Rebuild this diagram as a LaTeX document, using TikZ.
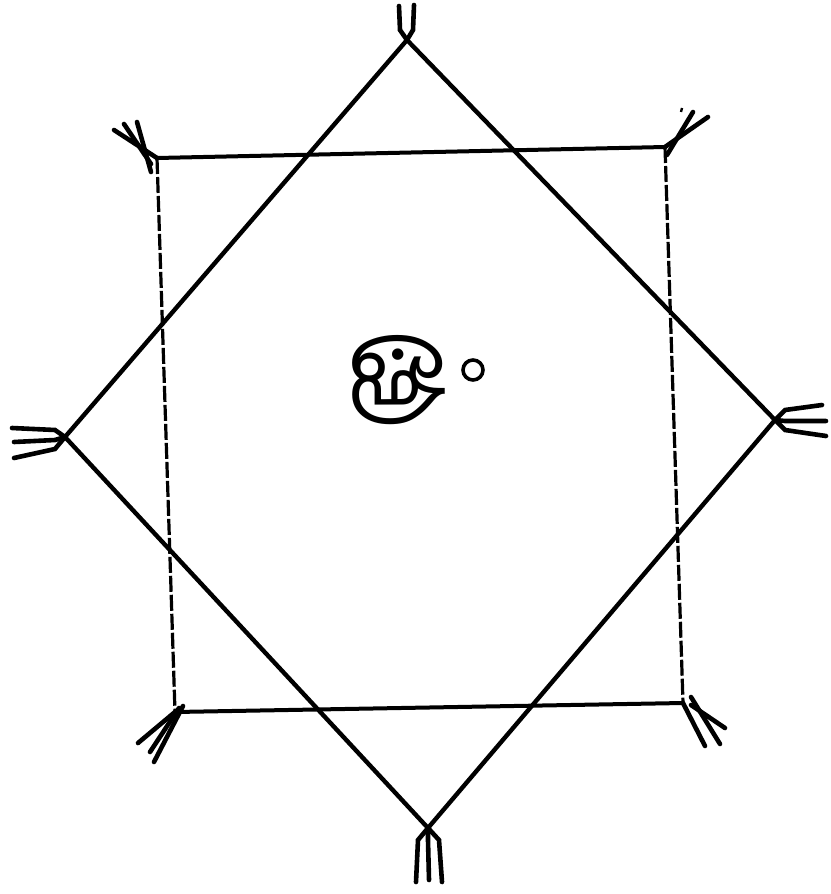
\documentclass[tikz,border=0pt]{standalone}
\usepackage{fontspec}
\newfontfamily\tamilfont[Script=Tamil]{Hind Madurai}
\begin{document}
\begin{tikzpicture}[x=1pt,y=-1pt,
  edge/.style={line width=4.4pt,line cap=round},
  sqedge/.style={line width=4pt,line cap=round},
  sqvert/.style={line width=3.2pt,dash pattern=on 16pt off 3pt},
  tassel/.style={line width=4.6pt,line cap=round}]
\useasboundingbox (0,0) rectangle (830,894);
% diamond corners
\coordinate (dT) at (407,40);
\coordinate (dR) at (775,420);
\coordinate (dB) at (428,828);
\coordinate (dL) at (65,437);
% square corners
\coordinate (sTL) at (157,158);
\coordinate (sTR) at (665,147);
\coordinate (sBR) at (683,703);
\coordinate (sBL) at (175,712);
% diamond
\draw[edge] (dT) -- (dR) -- (dB) -- (dL) -- cycle;
% square
\draw[sqedge] (sTL) -- (sTR);
\draw[sqedge] (sBL) -- (sBR);
\draw[sqvert] (sTL) -- (sBL);
\draw[sqvert] (sTR) -- (sBR);
% tassels: top
\coordinate (t1) at (399,6); \coordinate (t2) at (414,5);
\draw[tassel] (dT) -- ++(-7,-10) -- (t1);
\draw[tassel] (dT) -- ++(6,-10) -- (t2);
% top-left
\coordinate (tl1) at (114,130); \coordinate (tl2) at (124,124); \coordinate (tl3) at (137,122);
\draw[tassel] (sTL) -- (tl1);
\draw[tassel] ([xshift=-6pt,yshift=-6pt]sTL) -- (tl2);
\draw[tassel] ([xshift=-6pt,yshift=-14pt]sTL) -- (tl3);
% top-right
\coordinate (tr1) at (708,117); \coordinate (tr2) at (693,112); \coordinate (tr3) at (681,112);
\draw[tassel] (sTR) -- (tr1);
\draw[tassel] ([xshift=2pt,yshift=-8pt]sTR) -- (tr2);
\draw[line width=2.4pt] (tr3) -- ++(1,-4);
% left
\coordinate (l1) at (12,428); \coordinate (l2) at (14,442); \coordinate (l3) at (14,458);
\draw[tassel] (dL) -- ++(-10,-7) -- (l1);
\draw[tassel] (dL) -- ++(-10,3) -- (l2);
\draw[tassel] (dL) -- ++(-10,12) -- (l3);
% right
\coordinate (r1) at (822,405); \coordinate (r2) at (826,421); \coordinate (r3) at (826,436);
\draw[tassel] (dR) -- ++(10,-10) -- (r1);
\draw[tassel] (dR) -- ++(10,1) -- (r2);
\draw[tassel] (dR) -- ++(10,10) -- (r3);
% bottom-left
\coordinate (bl1) at (138,743); \coordinate (bl2) at (150,752); \coordinate (bl3) at (154,762);
\draw[tassel] (sBL) -- (bl1);
\draw[tassel] ([xshift=4pt,yshift=4pt]sBL) -- (bl2);
\draw[tassel] ([xshift=8pt,yshift=6pt]sBL) -- (bl3);
% bottom-right
\coordinate (br1) at (705,746); \coordinate (br2) at (720,744); \coordinate (br3) at (725,728);
\draw[tassel] (sBR) -- (br1);
\draw[tassel] ([xshift=8pt,yshift=6pt]sBR) -- (br2);
\draw[tassel] ([xshift=8pt,yshift=-2pt]sBR) -- (br3);
% bottom
\coordinate (b1) at (416,882); \coordinate (b2) at (429,880); \coordinate (b3) at (442,882);
\draw[tassel] (dB) -- ++(-10,12) -- (b1);
\draw[tassel] (dB) -- ++(0,12) -- (b2);
\draw[tassel] (dB) -- ++(11,12) -- (b3);
% centre
\node (om) at (397,380) {\tamilfont\fontsize{100}{100}\selectfont ௐ};
\node[draw,circle,line width=3.6pt,minimum size=20pt,inner sep=0pt] (dot) at (473,370) {};
\end{tikzpicture}
\end{document}
